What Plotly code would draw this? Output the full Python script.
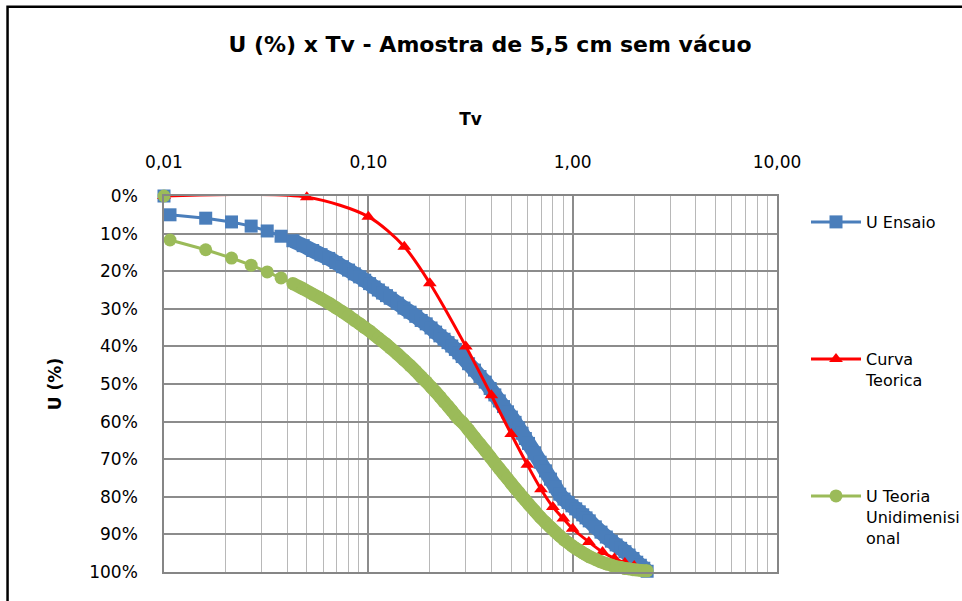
import plotly.graph_objects as go

# Time factor Tv shared by the test readings and the one-dimensional theory
tv_ensaio = [0.01, 0.0107, 0.016, 0.0214, 0.0267, 0.032, 0.0374, 0.0427, 0.048, 0.0534, 0.0587,
             0.064, 0.0694, 0.0747, 0.08, 0.0854, 0.0907, 0.096, 0.1014, 0.1067, 0.112,
             0.1174, 0.1227, 0.128, 0.1387, 0.1494, 0.16, 0.1707, 0.1814, 0.192, 0.2027,
             0.2134, 0.224, 0.2347, 0.2454, 0.256, 0.2667, 0.2774, 0.288, 0.3094, 0.3307,
             0.352, 0.3734, 0.3947, 0.416, 0.4374, 0.4587, 0.48, 0.5014, 0.5227, 0.544,
             0.5654, 0.5867, 0.608, 0.6507, 0.6934, 0.736, 0.7787, 0.8214, 0.864, 0.9067,
             0.9494, 0.992, 1.0347, 1.0774, 1.12, 1.1627, 1.2054, 1.2907, 1.376, 1.4614,
             1.5467, 1.632, 1.7174, 1.8027, 1.888, 1.9734, 2.0587, 2.144, 2.2294, 2.3147]

# Measured degree of consolidation (%)
u_ensaio = [0.0, 5.0, 5.9, 6.9, 8.0, 9.3, 10.7, 11.9, 13.2, 14.5, 15.6,
            16.6, 17.7, 18.8, 19.7, 20.7, 21.5, 22.4, 23.3, 24.2, 25.0,
            25.8, 26.5, 27.2, 28.5, 29.8, 30.9, 32.0, 33.1, 34.0, 35.1,
            36.2, 37.2, 38.1, 39.0, 39.9, 40.8, 41.7, 42.7, 44.6, 46.3,
            48.0, 49.5, 51.2, 52.9, 54.5, 56.0, 57.4, 58.8, 60.2, 61.7,
            63.1, 64.5, 65.8, 68.3, 70.8, 73.1, 75.3, 77.3, 79.3, 80.6,
            81.5, 82.4, 83.2, 84.0, 84.8, 85.6, 86.4, 88.0, 89.4, 90.7,
            91.8, 92.8, 93.7, 94.6, 95.5, 96.4, 97.4, 98.2, 99.0, 99.8]

# One-dimensional consolidation theory (%)
u_teoria = [0.0, 11.7, 14.3, 16.5, 18.4, 20.2, 21.8, 23.3, 24.7, 26.1, 27.3,
            28.5, 29.7, 30.8, 31.9, 33.0, 34.0, 35.0, 35.9, 36.9, 37.8,
            38.7, 39.5, 40.4, 42.0, 43.6, 45.1, 46.6, 48.1, 49.4, 50.8,
            52.1, 53.4, 54.7, 55.9, 57.1, 58.3, 59.4, 60.2, 62.2, 64.2,
            66.0, 67.7, 69.4, 71.0, 72.5, 73.9, 75.2, 76.5, 77.7, 78.8,
            79.9, 80.9, 81.9, 83.7, 85.4, 86.8, 88.1, 89.3, 90.4, 91.4,
            92.2, 93.0, 93.7, 94.3, 94.9, 95.4, 95.9, 96.6, 97.3, 97.8,
            98.2, 98.6, 98.8, 99.1, 99.2, 99.4, 99.5, 99.6, 99.7, 99.7]

# Theoretical curve
tv_curva = [0.01, 0.05, 0.1, 0.15, 0.2, 0.3, 0.4, 0.5, 0.6, 0.7, 0.8, 0.9, 1.0,
            1.2, 1.4, 1.6, 1.8, 2.0]
u_curva = [0.0, 0.3, 5.5, 13.5, 23.2, 40.0, 53.0, 63.3, 71.5, 78.0, 82.7, 85.8, 88.5,
           92.0, 94.7, 96.4, 97.6, 98.4]

FONT = "DejaVu Sans"
BLUE = "#4A7EBB"
RED = "#FF0000"
GREEN = "#9BBB59"
MSIZE = 13
DENSE_FROM = 7  # readings from here on are packed tightly enough to merge

fig = go.Figure()


def add_series(tv, u, name, color, symbol, legend, band):
    # densely packed readings merge into a solid band behind the markers
    fig.add_trace(go.Scatter(
        x=tv[DENSE_FROM:], y=u[DENSE_FROM:], mode="lines", showlegend=False,
        hoverinfo="skip", line=dict(color=color, width=band, shape="spline"),
        cliponaxis=False))
    # the starting reading sits on the axis edge as a lone marker (no joining segment)
    fig.add_trace(go.Scatter(
        x=tv[:1], y=u[:1], mode="markers", showlegend=False, hoverinfo="skip",
        marker=dict(symbol=symbol, size=MSIZE, color=color), cliponaxis=False))
    fig.add_trace(go.Scatter(
        x=tv[1:], y=u[1:], name=name, mode="lines+markers", showlegend=True,
        line=dict(color=color, width=3),
        marker=dict(symbol=symbol, size=MSIZE, color=color),
        cliponaxis=False, legend=legend))


add_series(tv_ensaio, u_ensaio, "U Ensaio", BLUE, "square", "legend", 15)
fig.add_trace(go.Scatter(
    x=tv_curva, y=u_curva, name="Curva<br>Teorica", mode="lines+markers", showlegend=True,
    line=dict(color=RED, width=3, shape="spline", smoothing=0.8),
    marker=dict(symbol="triangle-up", size=12, color=RED),
    cliponaxis=False, legend="legend2"))
add_series(tv_ensaio, u_teoria, "U Teoria<br>Unidimenisi<br>onal", GREEN, "circle", "legend3", 13)

W, H = 962, 601
L, R, T, B = 163.5, 185.3, 196, 29.3
pw, ph = W - L - R, H - T - B


def px_x(p):
    return (p - L) / pw


def px_y(p):
    return (H - B - p) / ph


legend_common = dict(xref="container", yref="container",
                     xanchor="left", yanchor="top", valign="top",
                     bgcolor="rgba(0,0,0,0)", font=dict(family=FONT, size=16, color="#000"),
                     itemwidth=50)
LEG_X = 806 / W

fig.update_layout(
    width=W, height=H,
    margin=dict(l=L, r=R, t=T, b=B, pad=0, autoexpand=False),
    paper_bgcolor="white", plot_bgcolor="white",
    separators=",.",
    showlegend=True,
    font=dict(family=FONT, size=17, color="#000"),
    title=dict(text="<b>U (%) x Tv - Amostra de 5,5 cm sem vácuo</b>",
               font=dict(family=FONT, size=22, color="#000"),
               xref="container", x=490 / W, xanchor="center",
               yref="container", y=1 - 44 / H, yanchor="middle"),
    legend=dict(x=LEG_X, y=1 - 205 / H, **legend_common),
    legend2=dict(x=LEG_X, y=1 - 342 / H, **legend_common),
    legend3=dict(x=LEG_X, y=1 - 479 / H, **legend_common),
    xaxis=dict(
        type="log", range=[-2, 1], side="top",
        dtick=1, tickformat=".2f",
        showgrid=True, gridcolor="#8c8c8c", gridwidth=1.5,
        minor=dict(dtick="D1", showgrid=True, gridcolor="#b8b8b8", gridwidth=1.3),
        showline=True, mirror=True, linecolor="#868686", linewidth=1.5,
        ticks="", ticklabelstandoff=19,
        tickfont=dict(family=FONT, size=17, color="#000"),
        title=dict(text="<b>Tv</b>", font=dict(family=FONT, size=17, color="#000"),
                   standoff=23),
        zeroline=False,
    ),
    yaxis=dict(
        range=[100, 0], dtick=10, ticksuffix="%",
        showgrid=True, gridcolor="#8c8c8c", gridwidth=1.5,
        showline=True, mirror=True, linecolor="#868686", linewidth=1.5,
        zeroline=False, ticks="", ticklabelstandoff=21,
        tickfont=dict(family=FONT, size=17, color="#000"),
        title=dict(text="<b>U (%)</b>", font=dict(family=FONT, size=17, color="#000"),
                   standoff=23),
    ),
    shapes=[dict(type="rect", xref="paper", yref="paper",
                 x0=px_x(7), x1=px_x(966), y0=px_y(606), y1=px_y(7),
                 line=dict(color="#000", width=2.5), fillcolor="rgba(0,0,0,0)",
                 layer="below")],
)

fig.write_html("out.html")
